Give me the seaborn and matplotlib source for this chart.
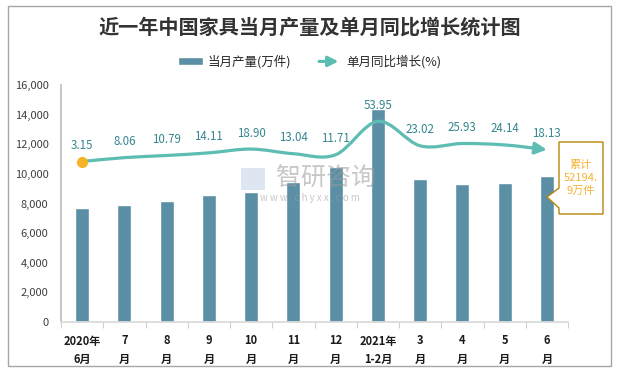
import numpy as np
import pandas as pd
import matplotlib
matplotlib.use('Agg')
import matplotlib.pyplot as plt
import seaborn as sns
from matplotlib.path import Path
from matplotlib.patches import FancyArrowPatch, Patch, Polygon, Rectangle
from matplotlib.legend_handler import HandlerBase

months = ['2020年\n6月', '7\n月', '8\n月', '9\n月', '10\n月', '11\n月', '12\n月',
          '2021年\n1-2月', '3\n月', '4\n月', '5\n月', '6\n月']
output = [7710, 7920, 8140, 8600, 8750, 9430, 10440, 14400, 9630, 9290, 9360, 9830]
growth = [3.15, 8.06, 10.79, 14.11, 18.90, 13.04, 11.71, 53.95, 23.02, 25.93, 24.14, 18.13]
total_note = '累计\n52194.\n9万件'

BAR_C = '#5B8FA6'
LINE_C = '#5DBDB2'
LABEL_C = '#35868F'
DOT_C = '#F5B325'

sns.set_theme(style='white')
plt.rcParams['font.family'] = ['Noto Sans CJK SC', 'DejaVu Sans']

df = pd.DataFrame({'month': months, 'output': output, 'growth': growth})

fig = plt.figure(figsize=(6.19, 3.72), dpi=100)
W, H = 619, 372
ax = fig.add_axes([61 / W, 1 - 322 / H, (568 - 61) / W, (322 - 85) / H])

sns.barplot(data=df, x='month', y='output', color=BAR_C, width=0.33,
            saturation=1, ax=ax)
ax.set_xlim(-0.5, len(months) - 0.5)
ax.set_ylim(0, 16000)
ax.set_yticks(np.arange(0, 16001, 2000))
ax.set_yticklabels([f'{v:,}' for v in range(0, 16001, 2000)], fontsize=8, color='#404040')
ax.set_xlabel('')
ax.set_ylabel('')
ax.set_xticks(range(len(months)))
ax.set_xticklabels(months, fontsize=8, fontweight='bold', color='#1a1a1a', linespacing=1.5)
ax.set_xticks(np.arange(-0.5, len(months), 1), minor=True)
ax.tick_params(axis='x', which='major', length=0, pad=9)
ax.tick_params(axis='x', which='minor', length=4, color='#D0D0D0', width=0.8, bottom=True)
ax.tick_params(axis='y', length=0, pad=9)
for s in ['top', 'right']:
    ax.spines[s].set_visible(False)
ax.spines['left'].set_color('#BFBFBF')
ax.spines['bottom'].set_color('#D9D9D9')
ax.grid(False)

# growth line on hidden secondary axis, smoothed with Bezier segments
ax2 = ax.twinx()
ax2.set_ylim(-200, 100)
ax2.axis('off')
pts = np.column_stack([np.arange(len(growth)), growth]).astype(float)
verts = [pts[0]]
codes = [Path.MOVETO]
n = len(pts)
for i in range(n - 1):
    p0 = pts[max(i - 1, 0)]
    p1 = pts[i]
    p2 = pts[i + 1]
    p3 = pts[min(i + 2, n - 1)]
    c1 = p1 + (p2 - p0) / 6
    c2 = p2 - (p3 - p1) / 6
    verts += [c1, c2, p2]
    codes += [Path.CURVE4] * 3
curve = FancyArrowPatch(path=Path(verts, codes), arrowstyle='-|>,head_length=7,head_width=3.5',
                        color=LINE_C, lw=2.3, transform=ax2.transData, zorder=3)
ax2.add_patch(curve)
ax2.plot([0], [growth[0]], 'o', color=DOT_C, ms=7, zorder=4)
for i, g in enumerate(growth):
    ax2.annotate(f'{g:.2f}', (i, g), xytext=(0, 16), textcoords='offset pixels',
                 ha='center', va='center', fontsize=8.3, color=LABEL_C)

# watermark
fig.text(326 / W, 1 - 178 / H, '智研咨询', fontsize=18, color='#9A9A9A', alpha=0.55,
         ha='center', va='center')
fig.text(310 / W, 1 - 198 / H, 'w w w . c h y x x . c o m', fontsize=7, color='#9A9A9A',
         alpha=0.55, ha='center', va='center')
fig.patches.append(Rectangle((241 / W, 1 - 190 / H), 24 / W, 22 / H, transform=fig.transFigure,
                             facecolor='#C9D6EA', edgecolor='none', alpha=0.6))

# cumulative callout
call = [(559, 142), (603, 142), (603, 214), (559, 214), (559, 208), (547, 197), (559, 188)]
fig.patches.append(Polygon([(x / W, 1 - y / H) for x, y in call], closed=True,
                           transform=fig.transFigure, facecolor='white',
                           edgecolor='#B8860B', lw=1, zorder=5))
fig.text(581 / W, 1 - 178 / H, total_note, ha='center', va='center', fontsize=8,
         color='#F5B335', linespacing=1.35, zorder=6)

# title and legend
fig.text(0.5, 1 - 27 / H, '近一年中国家具当月产量及单月同比增长统计图', ha='center', va='center',
         fontsize=14.5, fontweight='bold', color='#333333')


class ArrowHandler(HandlerBase):
    def create_artists(self, legend, orig_handle, xdescent, ydescent, width, height, fontsize, trans):
        y = height / 2 - ydescent
        a = FancyArrowPatch((-xdescent, y), (width - xdescent, y),
                            arrowstyle='-|>,head_length=6,head_width=3', color=LINE_C,
                            lw=2.3, transform=trans)
        return [a]


bar_h = Patch(facecolor=BAR_C, label='当月产量(万件)')
line_h = Patch(facecolor=LINE_C, label='单月同比增长(%)')
fig.legend(handles=[bar_h, line_h], handler_map={line_h: ArrowHandler()},
           loc='center', bbox_to_anchor=(0.5, 1 - 62 / H), ncol=2, frameon=False,
           fontsize=9, handlelength=2.0, handleheight=0.6, columnspacing=2.0, handletextpad=0.4)

fig.patches.append(Rectangle((8 / W, 1 - 366 / H), 603 / W, 360 / H, transform=fig.transFigure,
                             facecolor='none', edgecolor='#A6A6A6', lw=1))

fig.savefig('out.png', dpi=100)
